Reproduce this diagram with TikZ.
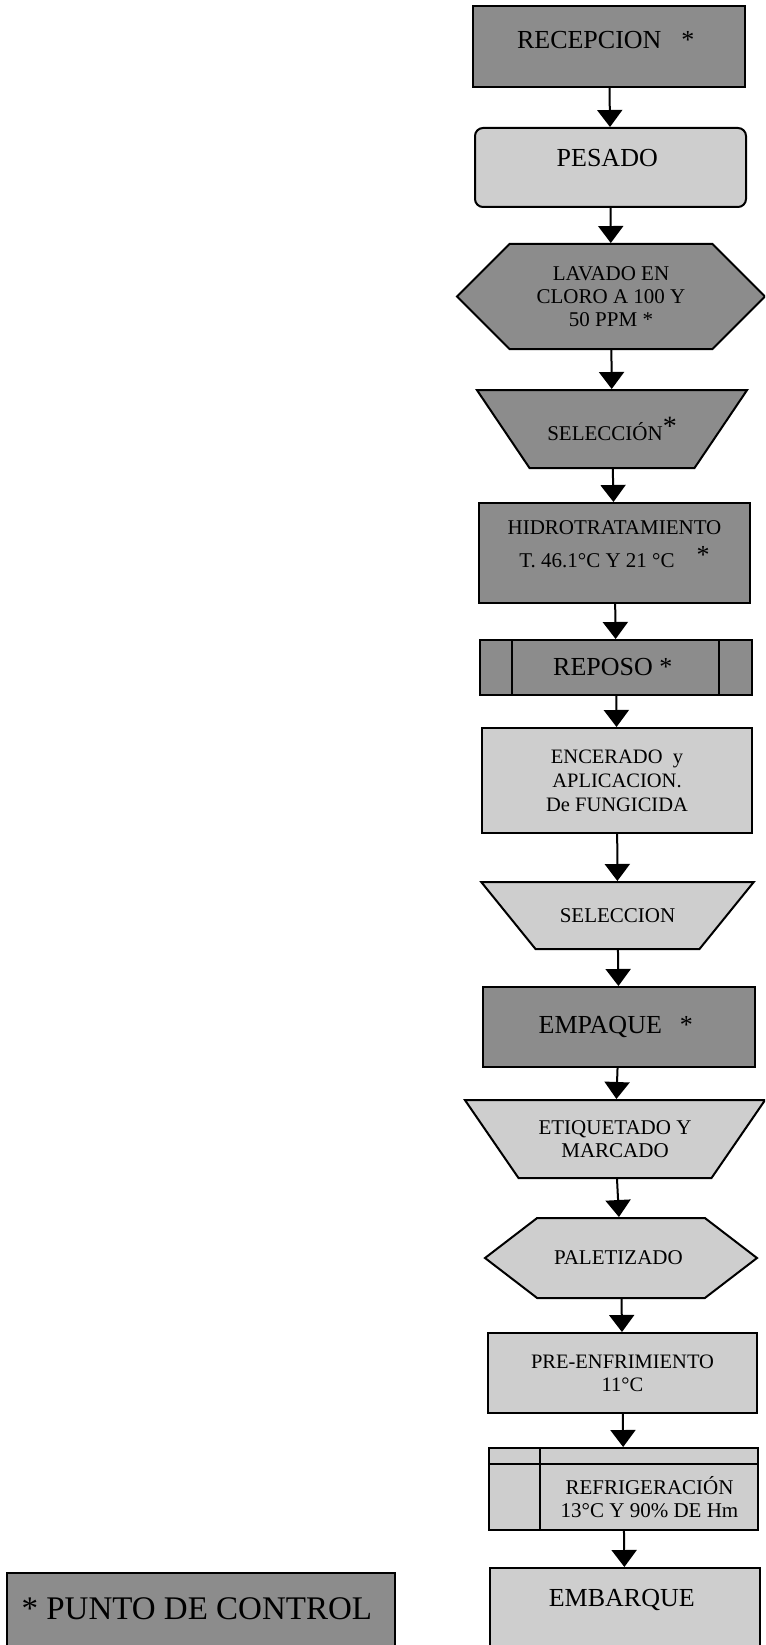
\documentclass[tikz,border=0pt]{standalone}
\usepackage{fontspec}
\setmainfont{Liberation Serif}
\usetikzlibrary{arrows.meta,shapes.geometric,shapes.symbols}
\definecolor{darkfill}{RGB}{140,140,140}
\definecolor{lightfill}{RGB}{206,206,206}
\newcommand{\tbig}{\fontsize{26}{28}\selectfont}
\newcommand{\tsmall}{\fontsize{21}{23}\selectfont}
\newcommand{\trapbox}[3]{\parbox[c][#2][c]{#1}{\centering #3}}

\begin{document}
\begin{tikzpicture}[ x=1pt, y=-1pt,
	box/.style={ draw, line width=2pt, inner sep=2pt, align=center,
		minimum width=271pt },
	dark/.style={ box, fill=darkfill },
	light/.style={ box, fill=lightfill },
	trap/.style={ trapezium, shape border rotate=180, inner sep=0pt,
		minimum width=0pt, minimum height=0pt,
		trapezium left angle=#1, trapezium right angle=#1 },
	hexa/.style={ signal, signal to=west and east },
	flow/.style={ line width=2pt, -{Triangle[width=25pt,length=17pt]} } ]
	\useasboundingbox (0,0) rectangle (765,1645);
	\clip (0,0) rectangle (765,1645);
	\node [dark, minimum width=272pt, minimum height=81pt, 
		text height=18pt, text depth=14pt, font=\tbig] (1) 
	at (609,46.5) 
	{ RECEPCION\hspace{20pt}* };
	\node [light, rounded corners=8pt, minimum height=79pt, 
		text height=18pt, text depth=20pt, font=\tbig] (2) 
	at (610.5,167.5) 
	{ PESADO };
	\node [dark, hexa, signal pointer angle=90, minimum width=308pt, 
		minimum height=105pt, font=\tsmall] (3) 
	at (611,296.5) 
	{ LAVADO EN\\CLORO A 100 Y\\50 PPM * };
	\node [dark, trap=56, font=\tsmall] (4) 
	at (612,429) 
	{\trapbox{165pt}{78pt}{SELECCIÓN\raisebox{5pt}{\fontsize{28}{28}\selectfont *}}};
	\node [dark, minimum height=100pt, font=\tsmall] (5) 
	at (614.5,553) 
	{ HIDROTRATAMIENTO\\[10pt]T. 46.1°C Y 21 °C\hspace{22pt}\raisebox{4pt}{\tbig *}\\[-6pt] };
	\node [dark, minimum width=272pt, minimum height=55pt, font=\tbig] (6) 
	at (616,667.5) 
	{ REPOSO * };
	\draw [line width=2pt] ([xshift=33pt]6.north west) -- ([xshift=33pt]6.south west);
	\draw [line width=2pt] ([xshift=-34pt]6.north east) -- ([xshift=-34pt]6.south east);
	\node [light, minimum width=270pt, minimum height=105pt, 
		font=\fontsize{20.5}{24}\selectfont] (7) 
	at (617,780.5) 
	{ ENCERADO\ \ y\\APLICACION.\\De FUNGICIDA };
	\node [light, trap=51, font=\tsmall] (8) 
	at (617.5,915.5) 
	{\trapbox{164pt}{67pt}{SELECCION}};
	\node [dark, minimum width=272pt, minimum height=80pt, font=\tbig] (9) 
	at (619,1027) 
	{ EMPAQUE\hspace{18pt}* };
	\node [light, trap=55.5, font=\tsmall] (10) 
	at (615,1139) 
	{\trapbox{193pt}{78pt}{ETIQUETADO Y\\MARCADO}};
	\node [light, hexa, signal pointer angle=75, minimum width=272pt, 
		minimum height=80pt, font=\tsmall] (11) 
	at (621,1258) 
	{ PALETIZADO };
	\node [light, minimum width=269pt, minimum height=80pt, 
		font=\fontsize{20.5}{23}\selectfont] (12) 
	at (622.5,1373) 
	{ PRE-ENFRIMIENTO\\11°C };
	\node [light, minimum width=269pt, minimum height=82pt] (13) 
	at (623.5,1489) {};
	\draw [line width=2pt] ([yshift=-17pt]13.north west) -- ([yshift=-17pt]13.north east);
	\draw [line width=2pt] ([xshift=52pt]13.north west) -- ([xshift=52pt]13.south west);
	\node [align=center, font=\tsmall] (13a) 
	at ([xshift=26pt,yshift=-8pt]13.center) 
	{ REFRIGERACIÓN\\13°C Y 90\% DE Hm };
	\node [light, anchor=north, minimum width=270pt, minimum height=110pt, 
		text height=17pt, text depth=51pt, font=\tbig] (14) 
	at (625,1567) 
	{ EMBARQUE };
	\node [dark, anchor=north, minimum width=388pt, minimum height=110pt, 
		text height=23pt, text depth=41pt, font=\fontsize{33}{35}\selectfont] (15) 
	at (201,1572) 
	{ * PUNTO DE CONTROL };
	\draw [ flow ] (1) to (2);
	\draw [ flow ] (2) to (3);
	\draw [ flow ] (3) to (4);
	\draw [ flow ] (4) to (5);
	\draw [ flow ] (5) to (6);
	\draw [ flow ] (6) to (7);
	\draw [ flow ] (7) to (8);
	\draw [ flow ] (8) to (9);
	\draw [ flow ] (9) to (10);
	\draw [ flow ] (10) to (11);
	\draw [ flow ] (11) to (12);
	\draw [ flow ] (12) to (13);
	\draw [ flow ] (13) to (14);
\end{tikzpicture}
\end{document}
